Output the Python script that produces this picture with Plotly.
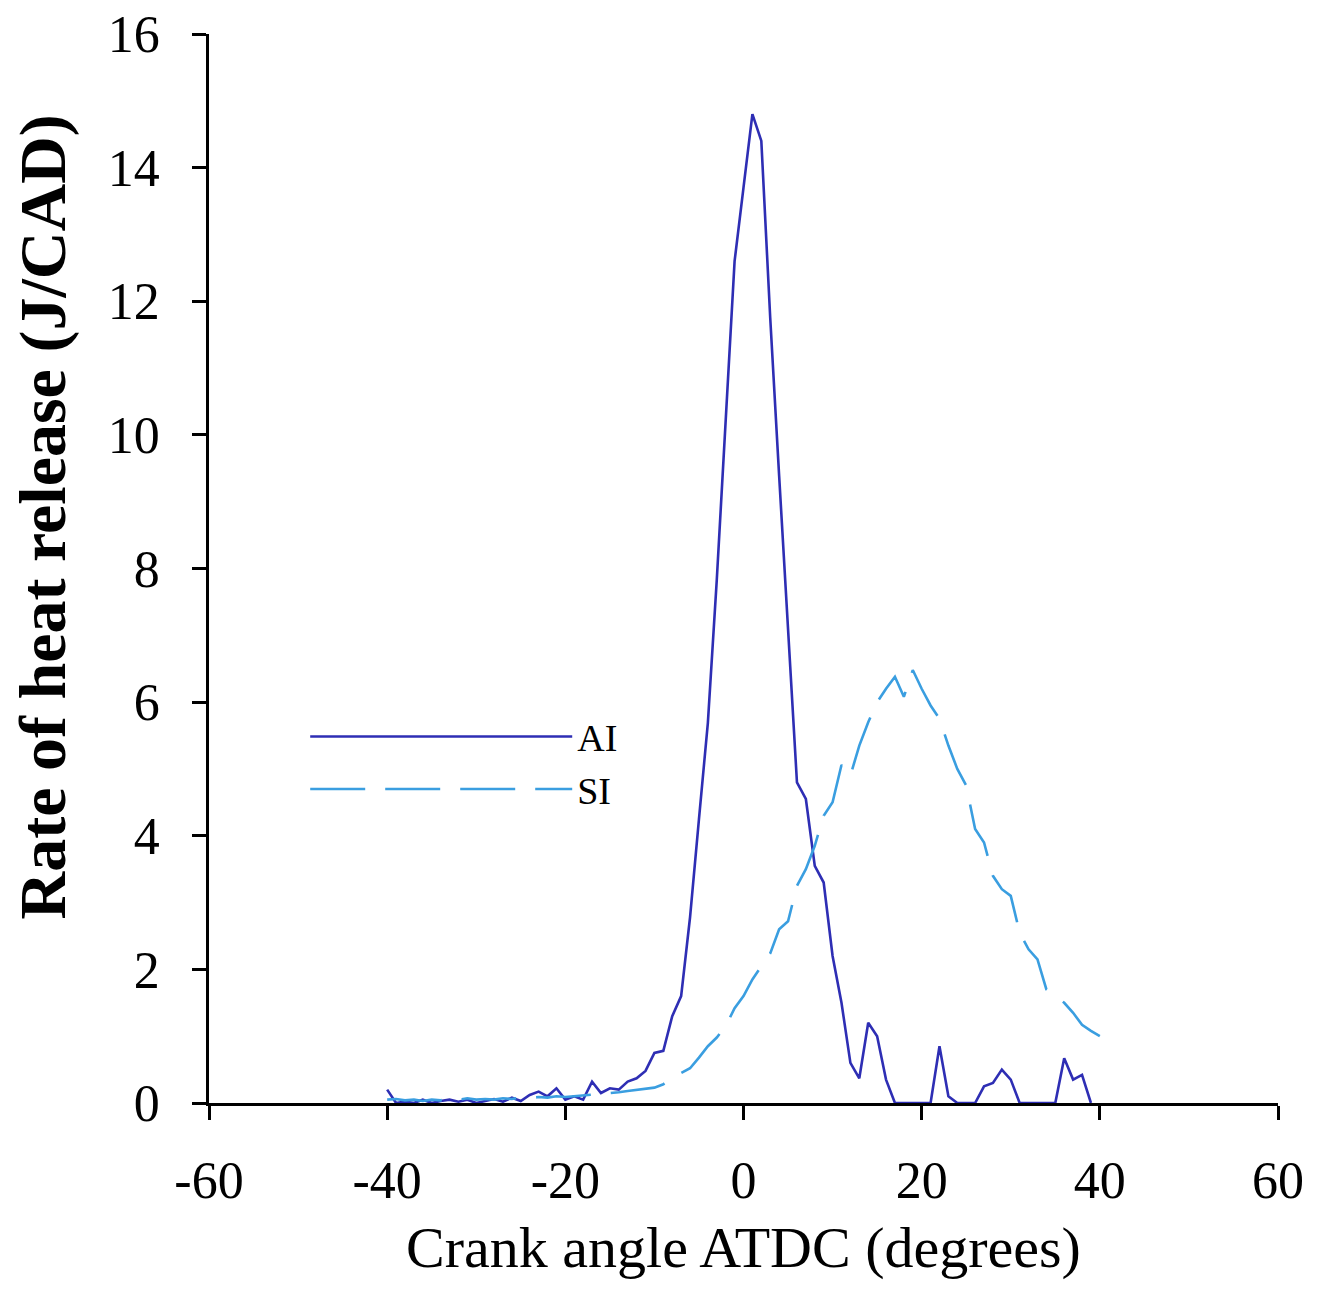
import plotly.graph_objects as go

# Crank angle (degrees ATDC)
ai_angle = list(range(-40, 40))
si_angle = list(range(-40, 41))

# Rate of heat release (J/CAD)
ai_rohr = [0.2, 0.0, 0.02, 0.0, 0.05, 0.0, 0.03, 0.05, 0.02, 0.05,
           0.0, 0.03, 0.06, 0.02, 0.08, 0.03, 0.12, 0.17, 0.1, 0.22,
           0.05, 0.1, 0.05, 0.32, 0.15, 0.22, 0.2, 0.32, 0.37, 0.48,
           0.75, 0.78, 1.3, 1.6, 2.78, 4.25, 5.69, 7.83, 10.16, 12.6,
           13.7, 14.8, 14.4, 11.75, 9.39, 7.02, 4.8, 4.55, 3.55, 3.3,
           2.2, 1.5, 0.6, 0.37, 1.2, 1.0, 0.35, 0.0, 0.0, 0.0,
           0.0, 0.0, 0.85, 0.1, 0.0, 0.0, 0.0, 0.25, 0.3, 0.5,
           0.35, 0.0, 0.0, 0.0, 0.0, 0.0, 0.67, 0.35, 0.42, 0.0]

si_rohr = [0.05, 0.06, 0.04, 0.05, 0.03, 0.05, 0.04, 0.06, 0.05, 0.07,
           0.05, 0.06, 0.05, 0.07, 0.06, 0.08, 0.07, 0.09, 0.08, 0.1,
           0.09, 0.1, 0.11, 0.12, 0.13, 0.15, 0.16, 0.18, 0.2, 0.22,
           0.23, 0.28, 0.38, 0.45, 0.52, 0.68, 0.85, 0.98, 1.15, 1.42,
           1.6, 1.85, 2.05, 2.24, 2.6, 2.72, 3.25, 3.5, 3.85, 4.3,
           4.5, 5.06, 4.9, 5.35, 5.7, 6.0, 6.2, 6.38, 6.08, 6.48,
           6.2, 5.95, 5.75, 5.35, 5.0, 4.75, 4.1, 3.9, 3.4, 3.2,
           3.1, 2.55, 2.3, 2.15, 1.7, 1.6, 1.5, 1.35, 1.17, 1.08, 1.0]

x_ticks = [-60, -40, -20, 0, 20, 40, 60]
x_tick_labels = ["-60", "-40", "-20", "0", "20", "40", "60"]
y_ticks = [0, 2, 4, 6, 8, 10, 12, 14, 16]
y_tick_labels = ["0", "2", "4", "6", "8", "10", "12", "14", "16"]

FONT = "Liberation Serif"

fig = go.Figure()
fig.add_trace(go.Scatter(x=ai_angle, y=ai_rohr, mode="lines", name="AI",
                         line=dict(color="#2e2eb4", width=2.6)))
fig.add_trace(go.Scatter(x=si_angle, y=si_rohr, mode="lines", name="SI",
                         line=dict(color="#3a9ee0", width=2.6, dash="55px,20px")))

axis_common = dict(showgrid=False, zeroline=False, showline=True,
                   linecolor="black", linewidth=2.5, ticks="outside",
                   ticklen=14, tickwidth=2.5, tickcolor="black",
                   automargin=False,
                   tickfont=dict(family=FONT, size=52, color="black"))

fig.update_layout(
    width=1324, height=1293,
    margin=dict(l=209, r=46, t=34, b=190),
    plot_bgcolor="white", paper_bgcolor="white",
    xaxis=dict(range=[-60, 60], tickvals=x_ticks, ticktext=x_tick_labels,
               ticklabelstandoff=16,
               title=dict(text="Crank angle ATDC (degrees)",
                          font=dict(family=FONT, size=58, color="black"),
                          standoff=19),
               **axis_common),
    yaxis=dict(range=[0, 16], tickvals=y_ticks, ticktext=y_tick_labels,
               ticklabelstandoff=22,
               **axis_common),
    showlegend=True,
    legend=dict(x=0.09, y=0.372, xanchor="left", yanchor="top",
                bgcolor="rgba(0,0,0,0)", itemwidth=262,
                font=dict(family=FONT, size=38, color="black")),
    annotations=[dict(text="<b>Rate of heat release (J/CAD)</b>",
                      xref="paper", yref="paper", x=-0.155, y=0.548,
                      xanchor="center", yanchor="middle", textangle=-90,
                      showarrow=False,
                      font=dict(family=FONT, size=66, color="black"))],
)

fig.write_html("out.html")
